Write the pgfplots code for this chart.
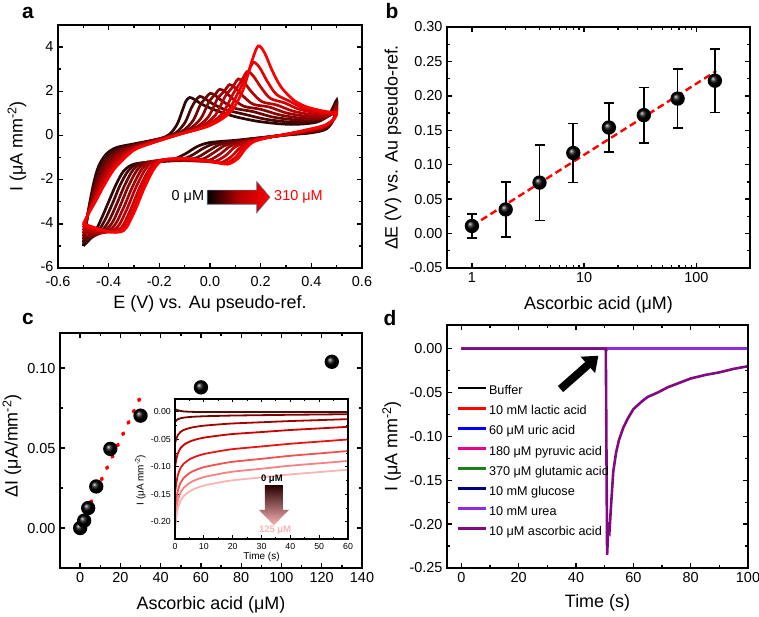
\documentclass[border=0pt]{standalone}
\usepackage{fontspec}
\setmainfont{Liberation Sans}
\usepackage{pgfplots}
\pgfplotsset{compat=1.18}
\usetikzlibrary{arrows.meta}

\definecolor{a0}{RGB}{45,6,6}
\definecolor{a1}{RGB}{75,6,6}
\definecolor{a2}{RGB}{105,6,6}
\definecolor{a3}{RGB}{132,5,5}
\definecolor{a4}{RGB}{158,4,4}
\definecolor{a5}{RGB}{183,3,3}
\definecolor{a6}{RGB}{206,2,2}
\definecolor{a7}{RGB}{228,1,1}
\definecolor{a8}{RGB}{250,0,0}
\definecolor{i0}{RGB}{85,10,10}
\definecolor{i1}{RGB}{125,0,0}
\definecolor{i2}{RGB}{165,0,0}
\definecolor{i3}{RGB}{200,0,0}
\definecolor{i4}{RGB}{235,20,20}
\definecolor{i5}{RGB}{245,80,80}
\definecolor{i6}{RGB}{248,130,130}
\definecolor{i7}{RGB}{250,180,180}
\definecolor{urea}{RGB}{140,45,230}
\definecolor{asc}{RGB}{128,10,128}
\definecolor{glut}{RGB}{30,125,30}
\definecolor{gluc}{RGB}{0,0,128}
\definecolor{arrowedge}{RGB}{90,125,165}

\pgfkeys{/pgf/number format/assume math mode=true}
\pgfplotsset{
  panel/.style={
    scale only axis, anchor=south west,
    line width=2.3bp,
    axis line style={line width=2.3bp},
    tick style={black, line width=1.4bp},
    major tick length=5bp, minor tick length=3bp,
    tick align=inside,
    tick label style={font=\fontsize{14.5}{17}\selectfont},
    label style={font=\fontsize{18}{21}\selectfont},
  },
}

\begin{document}
\begin{tikzpicture}
\path[use as bounding box] (0,0) rectangle (759bp,617bp);

% ---------------- panel a ----------------
\begin{axis}[panel, at={(58bp,349bp)}, width=304bp, height=243bp,
  xmin=-0.6, xmax=0.6, ymin=-6, ymax=5,
  xtick={-0.6,-0.4,-0.2,0,0.2,0.4,0.6}, ytick={-6,-4,-2,0,2,4},
  minor x tick num=1, minor y tick num=1,
  xticklabel style={yshift=-4bp, /pgf/number format/.cd, fixed, fixed zerofill, precision=1},
  yticklabel style={yshift=1bp},
  xlabel={E (V) vs. Au pseudo-ref.},
  ylabel={I (μA mm\textsuperscript{-2})},
  xlabel style={at={(axis description cs:0.5,-0.148)}, anchor=center},
  ylabel style={at={(axis description cs:-0.135,0.5)}, anchor=center},
  every axis plot/.append style={smooth, tension=0.5, line width=2.7bp},
]
\addplot[a0] coordinates {(-0.50,-5.00) (-0.48,-3.40) (-0.46,-2.20) (-0.44,-1.40) (-0.41,-0.85) (-0.37,-0.55) (-0.30,-0.38) (-0.20,-0.15) (-0.16,0.05) (-0.13,0.50) (-0.11,1.10) (-0.095,1.55) (-0.08,1.72) (-0.06,1.62) (-0.03,1.40) (0.02,1.15) (0.10,0.85) (0.20,0.62) (0.32,0.50) (0.42,0.60) (0.47,0.95) (0.50,1.60)
 (0.49,0.80) (0.46,0.30) (0.40,0.12) (0.30,0.02) (0.20,-0.10) (0.10,-0.22) (0.00,-0.32) (-0.05,-0.50) (-0.10,-0.85) (-0.15,-1.10) (-0.22,-1.20) (-0.30,-1.30) (-0.34,-1.60) (-0.37,-2.20) (-0.40,-3.00) (-0.43,-3.80) (-0.46,-4.50) (-0.50,-5.00)};
\addplot[a1] coordinates {(-0.50,-4.85) (-0.48,-3.42) (-0.458,-2.31) (-0.437,-1.54) (-0.406,-0.96) (-0.364,-0.61) (-0.297,-0.41) (-0.188,-0.12) (-0.136,0.11) (-0.099,0.58) (-0.074,1.24) (-0.056,1.59) (-0.040,1.77) (-0.019,1.66) (0.011,1.43) (0.059,1.17) (0.135,0.96) (0.227,0.72) (0.338,0.59) (0.429,0.67) (0.474,0.96) (0.50,1.51)
 (0.49,0.79) (0.458,0.32) (0.397,0.14) (0.30,0.02) (0.203,-0.10) (0.111,-0.23) (0.021,-0.36) (-0.026,-0.58) (-0.075,-0.92) (-0.125,-1.12) (-0.199,-1.18) (-0.282,-1.27) (-0.322,-1.59) (-0.354,-2.23) (-0.385,-3.08) (-0.417,-3.88) (-0.451,-4.48) (-0.50,-4.85)};
\addplot[a2] coordinates {(-0.50,-4.70) (-0.48,-3.45) (-0.457,-2.43) (-0.434,-1.67) (-0.401,-1.06) (-0.358,-0.67) (-0.294,-0.43) (-0.176,-0.09) (-0.112,0.17) (-0.067,0.67) (-0.038,1.39) (-0.017,1.69) (0.001,1.91) (0.023,1.79) (0.053,1.52) (0.098,1.23) (0.169,1.08) (0.254,0.82) (0.356,0.69) (0.438,0.74) (0.478,0.97) (0.50,1.42)
 (0.49,0.79) (0.457,0.35) (0.394,0.16) (0.30,0.03) (0.206,-0.11) (0.121,-0.24) (0.042,-0.40) (-0.002,-0.67) (-0.049,-0.99) (-0.099,-1.13) (-0.178,-1.16) (-0.264,-1.24) (-0.304,-1.57) (-0.337,-2.26) (-0.370,-3.15) (-0.403,-3.95) (-0.442,-4.46) (-0.50,-4.70)};
\addplot[a3] coordinates {(-0.50,-4.56) (-0.48,-3.47) (-0.456,-2.53) (-0.431,-1.80) (-0.397,-1.16) (-0.352,-0.73) (-0.291,-0.45) (-0.165,-0.06) (-0.090,0.23) (-0.038,0.74) (-0.004,1.52) (0.019,1.84) (0.039,2.09) (0.061,1.96) (0.091,1.65) (0.134,1.32) (0.201,1.18) (0.279,0.92) (0.373,0.77) (0.446,0.80) (0.481,0.98) (0.50,1.34)
 (0.49,0.78) (0.456,0.37) (0.391,0.18) (0.30,0.03) (0.209,-0.11) (0.131,-0.26) (0.062,-0.44) (0.020,-0.74) (-0.025,-1.05) (-0.075,-1.14) (-0.158,-1.13) (-0.247,-1.21) (-0.287,-1.56) (-0.322,-2.29) (-0.356,-3.22) (-0.390,-4.02) (-0.434,-4.43) (-0.50,-4.56)};
\addplot[a4] coordinates {(-0.50,-4.42) (-0.48,-3.49) (-0.454,-2.64) (-0.428,-1.92) (-0.393,-1.26) (-0.347,-0.78) (-0.288,-0.48) (-0.154,-0.03) (-0.067,0.28) (-0.008,0.82) (0.029,1.65) (0.056,2.00) (0.077,2.30) (0.100,2.15) (0.130,1.79) (0.171,1.41) (0.233,1.29) (0.304,1.01) (0.390,0.86) (0.455,0.86) (0.485,0.99) (0.50,1.25)
 (0.49,0.77) (0.454,0.39) (0.388,0.20) (0.30,0.04) (0.212,-0.11) (0.141,-0.27) (0.081,-0.48) (0.043,-0.82) (-0.001,-1.11) (-0.051,-1.16) (-0.139,-1.11) (-0.230,-1.18) (-0.270,-1.54) (-0.306,-2.32) (-0.342,-3.29) (-0.378,-4.09) (-0.425,-4.41) (-0.50,-4.42)};
\addplot[a5] coordinates {(-0.50,-4.29) (-0.48,-3.51) (-0.453,-2.73) (-0.426,-2.04) (-0.389,-1.35) (-0.342,-0.83) (-0.286,-0.50) (-0.143,-0.01) (-0.046,0.33) (0.019,0.89) (0.060,1.77) (0.090,2.20) (0.112,2.56) (0.135,2.39) (0.165,1.96) (0.205,1.53) (0.263,1.38) (0.328,1.10) (0.405,0.94) (0.463,0.92) (0.488,1.00) (0.50,1.17)
 (0.49,0.76) (0.453,0.41) (0.386,0.21) (0.30,0.04) (0.214,-0.11) (0.150,-0.28) (0.099,-0.52) (0.064,-0.89) (0.021,-1.17) (-0.029,-1.17) (-0.121,-1.09) (-0.215,-1.16) (-0.255,-1.53) (-0.292,-2.34) (-0.329,-3.36) (-0.366,-4.16) (-0.417,-4.39) (-0.50,-4.29)};
\addplot[a6] coordinates {(-0.50,-4.16) (-0.48,-3.53) (-0.452,-2.83) (-0.423,-2.16) (-0.385,-1.44) (-0.336,-0.89) (-0.283,-0.52) (-0.133,0.02) (-0.026,0.39) (0.046,0.96) (0.092,1.90) (0.123,2.45) (0.147,2.89) (0.171,2.69) (0.201,2.18) (0.238,1.68) (0.293,1.48) (0.351,1.19) (0.421,1.02) (0.470,0.98) (0.491,1.01) (0.50,1.10)
 (0.49,0.76) (0.452,0.43) (0.383,0.23) (0.30,0.05) (0.217,-0.12) (0.159,-0.29) (0.118,-0.56) (0.084,-0.96) (0.043,-1.23) (-0.007,-1.18) (-0.102,-1.07) (-0.199,-1.13) (-0.239,-1.52) (-0.278,-2.37) (-0.316,-3.42) (-0.354,-4.22) (-0.410,-4.37) (-0.50,-4.16)};
\addplot[a7] coordinates {(-0.50,-4.07) (-0.48,-3.54) (-0.451,-2.90) (-0.421,-2.24) (-0.382,-1.50) (-0.333,-0.92) (-0.281,-0.54) (-0.126,0.04) (-0.011,0.42) (0.065,1.01) (0.113,1.98) (0.147,2.77) (0.171,3.30) (0.196,3.07) (0.226,2.45) (0.262,1.86) (0.314,1.55) (0.367,1.25) (0.432,1.08) (0.476,1.02) (0.493,1.02) (0.50,1.04)
 (0.49,0.75) (0.451,0.44) (0.381,0.24) (0.30,0.05) (0.219,-0.12) (0.165,-0.29) (0.130,-0.58) (0.099,-1.01) (0.058,-1.27) (0.008,-1.19) (-0.090,-1.06) (-0.188,-1.11) (-0.228,-1.51) (-0.268,-2.39) (-0.307,-3.47) (-0.346,-4.27) (-0.404,-4.36) (-0.50,-4.07)};
\addplot[a8] coordinates {(-0.50,-4.00) (-0.48,-3.55) (-0.45,-2.95) (-0.42,-2.30) (-0.38,-1.55) (-0.33,-0.95) (-0.28,-0.55) (-0.12,0.05) (0.00,0.45) (0.08,1.05) (0.13,2.05) (0.165,3.35) (0.19,4.05) (0.215,3.75) (0.245,2.95) (0.28,2.20) (0.33,1.60) (0.38,1.30) (0.44,1.12) (0.48,1.05) (0.495,1.02) (0.50,1.00)
 (0.49,0.75) (0.45,0.45) (0.38,0.25) (0.30,0.05) (0.22,-0.12) (0.17,-0.30) (0.14,-0.60) (0.11,-1.05) (0.07,-1.30) (0.02,-1.20) (-0.08,-1.05) (-0.18,-1.10) (-0.22,-1.50) (-0.26,-2.40) (-0.30,-3.50) (-0.34,-4.30) (-0.40,-4.35) (-0.50,-4.00)};
% gradient arrow
\shade[left color=black, right color=red, middle color=red!70!black]
  (axis cs:-0.011,-2.475) -- (axis cs:0.184,-2.475) -- (axis cs:0.184,-2.08) -- (axis cs:0.237,-2.795)
  -- (axis cs:0.184,-3.51) -- (axis cs:0.184,-3.115) -- (axis cs:-0.011,-3.115) -- cycle;
\draw[arrowedge, line width=0.6bp]
  (axis cs:-0.011,-2.475) -- (axis cs:0.184,-2.475) -- (axis cs:0.184,-2.08) -- (axis cs:0.237,-2.795)
  -- (axis cs:0.184,-3.51) -- (axis cs:0.184,-3.115) -- (axis cs:-0.011,-3.115) -- cycle;
\node[anchor=east, font=\fontsize{14.5}{17}\selectfont, inner sep=1bp] at (axis cs:-0.015,-2.795) {0 μM};
\node[anchor=west, font=\fontsize{14.5}{17}\selectfont, text=red, inner sep=1bp] at (axis cs:0.245,-2.795) {310 μM};
\end{axis}
\draw[line width=2.4bp] (58bp,349bp) rectangle (362bp,592bp);

% ---------------- panel b ----------------
\begin{axis}[panel, at={(447bp,349bp)}, width=303bp, height=241bp,
  xmode=log, xmin=0.6, xmax=300, ymin=-0.05, ymax=0.30,
  xtick={1,10,100}, xticklabels={1,10,100},
  ytick={-0.05,0,0.05,0.1,0.15,0.2,0.25,0.3}, minor y tick num=1,
  yticklabel style={/pgf/number format/.cd, fixed, fixed zerofill, precision=2},
  xlabel={Ascorbic acid (μM)},
  ylabel={ΔE (V) vs. Au pseudo-ref.},
  xlabel style={at={(axis description cs:0.5,-0.153)}, anchor=center},
  ylabel style={at={(axis description cs:-0.178,0.5)}, anchor=center},
]
\addplot[red, line width=2.4bp, dash pattern=on 7bp off 4bp] coordinates {(1,0.011) (150,0.236)};
\addplot[black, only marks, mark=ball, mark size=6bp, mark options={ball color=black},
  error bars/.cd, y dir=both, y explicit,
  error bar style={line width=1.7bp, black},
  error mark options={rotate=90, mark size=5bp, line width=1.7bp, black}]
 coordinates {
 (1,0.011) +- (0,0.017)
 (2,0.035) +- (0,0.040)
 (4,0.074) +- (0,0.055)
 (8,0.117) +- (0,0.043)
 (16.6,0.154) +- (0,0.036)
 (34,0.172) +- (0,0.040)
 (68,0.196) +- (0,0.043)
 (146,0.222) +- (0,0.046)
 };
\end{axis}
\draw[line width=2.4bp] (447bp,349bp) rectangle (750bp,590bp);

% ---------------- panel c ----------------
\begin{axis}[panel, at={(60bp,49bp)}, width=302bp, height=235bp,
  xmin=-10, xmax=140, ymin=-0.025, ymax=0.122,
  xtick={0,20,40,60,80,100,120,140}, ytick={0,0.05,0.1},
  minor x tick num=1, minor y tick num=1,
  yticklabel style={/pgf/number format/.cd, fixed, fixed zerofill, precision=2},
  xlabel={Ascorbic acid (μM)},
  ylabel={ΔI (μA/mm\textsuperscript{-2})},
  xlabel style={at={(axis description cs:0.5,-0.157)}, anchor=center},
  ylabel style={at={(axis description cs:-0.159,0.52)}, anchor=center},
]
\addplot[red, line width=3.6bp, line cap=round, dash pattern=on 1.5bp off 11bp] coordinates {(0,0.002) (30,0.082)};
\addplot[black, only marks, mark=ball, mark size=6bp, mark options={ball color=black}]
 coordinates {(0,0.000) (2,0.0046) (4,0.0125) (8,0.026) (15,0.0495) (30,0.0703) (60,0.088) (125,0.104)};
\end{axis}
\draw[line width=2.4bp] (60bp,49bp) rectangle (362bp,284bp);

% inset
\begin{axis}[panel, at={(175bp,78bp)}, width=173bp, height=140bp,
  axis background/.style={fill=white},
  line width=1.7bp,
  axis line style={line width=1.7bp},
  tick style={black, line width=1bp},
  major tick length=3.5bp, minor tick length=2bp,
  xmin=0, xmax=60, ymin=-0.231, ymax=0.0236,
  xtick={0,10,20,30,40,50,60}, ytick={-0.2,-0.15,-0.1,-0.05,0},
  minor x tick num=1, minor y tick num=1,
  tick label style={font=\fontsize{8.8}{10}\selectfont},
  label style={font=\fontsize{10}{12}\selectfont},
  yticklabel style={/pgf/number format/.cd, fixed, fixed zerofill, precision=2},
  xlabel={Time (s)}, ylabel={I (μA mm\textsuperscript{-2})},
  xlabel style={at={(axis description cs:0.5,-0.13)}, anchor=center},
  ylabel style={at={(axis description cs:-0.2,0.42)}, anchor=center},
  every axis plot/.append style={smooth, line width=1.8bp},
]
\addplot[i0] coordinates {(0,0.005) (0.5,0.004) (1,0.003) (2,0.0018) (3,0.0010) (5,0.0004) (7,0.0001) (10,0) (20,0) (30,0) (40,0) (50,0) (60,0)};
\addplot[i1] coordinates {(0,-0.018) (0.5,-0.0152) (1,-0.0132) (2,-0.0113) (3,-0.0103) (5,-0.0092) (7,-0.0085) (10,-0.0078) (15,-0.0071) (20,-0.0065) (30,-0.0058) (40,-0.0051) (50,-0.0046) (60,-0.004)};
\addplot[i2] coordinates {(0,-0.057) (0.5,-0.0482) (1,-0.0420) (2,-0.0359) (3,-0.0328) (5,-0.0293) (7,-0.0271) (10,-0.0249) (15,-0.0227) (20,-0.0209) (30,-0.0187) (40,-0.0165) (50,-0.0148) (60,-0.013)};
\addplot[i3] coordinates {(0,-0.100) (0.5,-0.0854) (1,-0.0752) (2,-0.0650) (3,-0.0599) (5,-0.0540) (7,-0.0504) (10,-0.0467) (15,-0.0431) (20,-0.0401) (30,-0.0365) (40,-0.0328) (50,-0.0299) (60,-0.027)};
\addplot[i4] coordinates {(0,-0.148) (0.5,-0.1284) (1,-0.1147) (2,-0.1010) (3,-0.0941) (5,-0.0863) (7,-0.0814) (10,-0.0765) (15,-0.0716) (20,-0.0676) (30,-0.0627) (40,-0.0578) (50,-0.0539) (60,-0.050)};
\addplot[i5] coordinates {(0,-0.180) (0.5,-0.1582) (1,-0.1429) (2,-0.1277) (3,-0.1201) (5,-0.1113) (7,-0.1059) (10,-0.1004) (15,-0.0950) (20,-0.0906) (30,-0.0852) (40,-0.0797) (50,-0.0754) (60,-0.071)};
\addplot[i6] coordinates {(0,-0.198) (0.5,-0.1762) (1,-0.1609) (2,-0.1457) (3,-0.1381) (5,-0.1293) (7,-0.1239) (10,-0.1184) (15,-0.1130) (20,-0.1086) (30,-0.1032) (40,-0.0977) (50,-0.0934) (60,-0.089)};
\addplot[i7] coordinates {(0,-0.212) (0.5,-0.1906) (1,-0.1756) (2,-0.1606) (3,-0.1532) (5,-0.1446) (7,-0.1392) (10,-0.1339) (15,-0.1285) (20,-0.1243) (30,-0.1189) (40,-0.1136) (50,-0.1093) (60,-0.105)};
\shade[top color=black!85!red, bottom color=i7]
  (axis cs:31.2,-0.133) -- (axis cs:37.4,-0.133) -- (axis cs:37.4,-0.178) -- (axis cs:39.5,-0.178)
  -- (axis cs:34.3,-0.206) -- (axis cs:29.1,-0.178) -- (axis cs:31.2,-0.178) -- cycle;
\node[font=\fontsize{9.5}{11}\selectfont\bfseries, inner sep=0pt] at (axis cs:33.6,-0.123) {0 μM};
\node[font=\fontsize{9.5}{11}\selectfont\bfseries, text=i7, inner sep=0pt] at (axis cs:34.7,-0.2145) {125 μM};
\end{axis}
\draw[line width=1.7bp] (175bp,78bp) rectangle (348bp,218bp);

% ---------------- panel d ----------------
\begin{axis}[panel, at={(447bp,49bp)}, width=301bp, height=243bp,
  xmin=-5, xmax=100, ymin=-0.25, ymax=0.027,
  xtick={0,20,40,60,80,100}, ytick={-0.25,-0.2,-0.15,-0.1,-0.05,0},
  minor x tick num=1, minor y tick num=1,
  yticklabel style={/pgf/number format/.cd, fixed, fixed zerofill, precision=2},
  xlabel={Time (s)},
  ylabel={I (μA mm\textsuperscript{-2})},
  xlabel style={at={(axis description cs:0.5,-0.144)}, anchor=center},
  ylabel style={at={(axis description cs:-0.184,0.5)}, anchor=center},
  every axis plot/.append style={line width=2.6bp},
  legend cell align=left,
  legend image code/.code={\draw[#1, line width=2.8bp] (0bp,3.4bp) -- (28bp,3.4bp);},
  legend style={at={(axis description cs:0.017,0.765)}, anchor=north west, draw=none, fill=none,
    font=\fontsize{12.7}{15}\selectfont, row sep=7.6bp,
    nodes={inner xsep=2bp, inner ysep=0pt, text height=9.5bp, text depth=3bp}},
]
\addplot[black] coordinates {(0,0) (100,0)}; \addlegendentry{Buffer}
\addplot[red] coordinates {(0,0) (100,0)}; \addlegendentry{10 mM lactic acid}
\addplot[blue] coordinates {(0,0) (100,0)}; \addlegendentry{60 μM uric acid}
\addplot[magenta] coordinates {(0,0) (100,0)}; \addlegendentry{180 μM pyruvic acid}
\addplot[glut] coordinates {(0,0) (50,0) (50.5,-0.002) (51,0) (100,0)}; \addlegendentry{370 μM glutamic acid}
\addplot[gluc] coordinates {(0,0) (100,0)}; \addlegendentry{10 mM glucose}
\addplot[urea] coordinates {(0,0) (100,0)}; \addlegendentry{10 mM urea}
\addplot[asc] coordinates {(0,0) (50.4,0) (50.85,-0.235) (51.3,-0.203) (51.7,-0.207) (52.2,-0.18) (53,-0.14) (54,-0.118) (55,-0.104) (56.5,-0.09) (58,-0.08) (60,-0.069) (63,-0.060) (65,-0.055) (68.5,-0.050) (72,-0.044) (76,-0.039) (80,-0.034) (85,-0.030) (90,-0.027) (95,-0.023) (100,-0.020)}; \addlegendentry{10 μM ascorbic acid}
\draw[-{Triangle[width=21bp,length=14bp]}, line width=8bp, black] (axis cs:34.6,-0.046) -- (axis cs:47.8,-0.008);
\end{axis}
\draw[line width=2.4bp] (447bp,49bp) rectangle (748bp,292bp);

% panel letters
\node[font=\fontsize{21}{24}\selectfont\bfseries] at (28bp,604bp) {a};
\node[font=\fontsize{21}{24}\selectfont\bfseries] at (392bp,606bp) {b};
\node[font=\fontsize{21}{24}\selectfont\bfseries] at (28bp,298bp) {c};
\node[font=\fontsize{21}{24}\selectfont\bfseries] at (390bp,299bp) {d};
\end{tikzpicture}
\end{document}
